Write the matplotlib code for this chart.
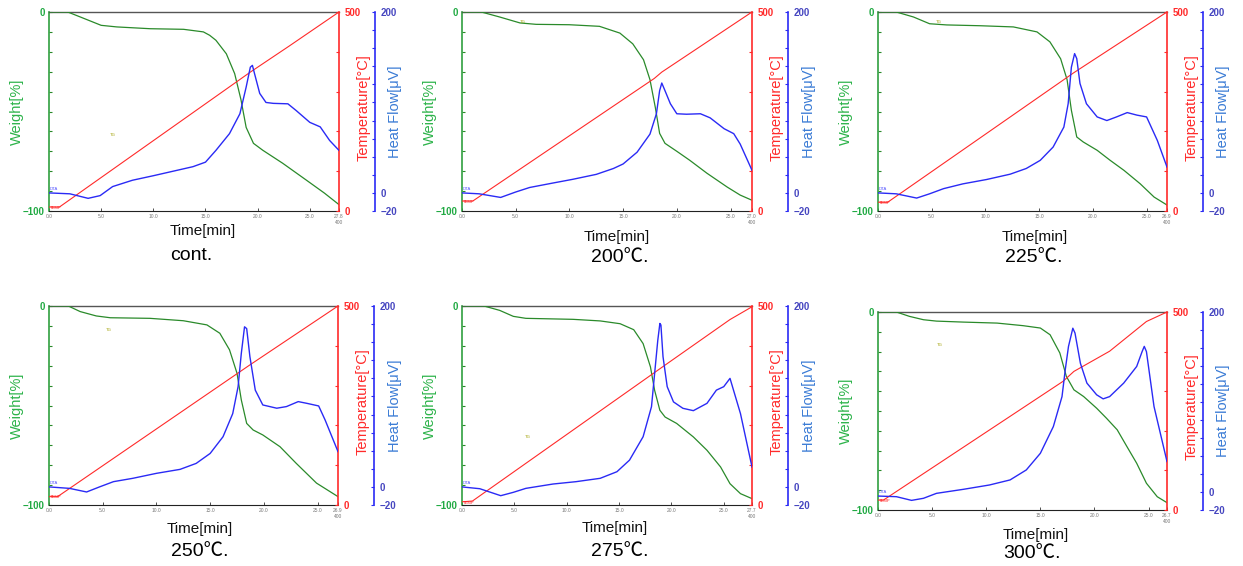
import matplotlib
matplotlib.use("Agg")
import matplotlib.pyplot as plt
import numpy as np

plt.rcParams["font.family"] = ["Liberation Sans", "Noto Sans CJK JP", "DejaVu Sans"]

W, H = 1243, 566

TITLES = ["cont.", "200℃.", "225℃.", "250℃.", "275℃.", "300℃."]
T_END = [27.8, 27.0, 26.9, 26.9, 27.7, 26.7]

# ---- cont.
CONT_TG_T = [0, 1.8, 3.0, 5.0, 6.5, 9.7, 12.9, 14.8, 15.4, 16.0, 16.5, 17.0, 17.8, 18.4, 18.9, 19.6, 20.5, 22.4, 24.7, 26.4, 27.8]
CONT_TG = [0, 0, -2.5, -6.7, -7.5, -8.4, -8.7, -10, -11.7, -14.2, -17.6, -21, -31, -44, -58, -66, -69.5, -76, -84.6, -91, -96.8]
CONT_TEMP_T = [0, 1.0, 19.3, 23.0, 27.8]
CONT_TEMP = [10, 10, 349, 414, 500]
CONT_HF_T = [0, 2.0, 3.75, 4.9, 6.1, 8.0, 10.0, 11.9, 13.8, 15.0, 16.0, 17.3, 18.3, 18.9, 19.3, 19.5, 19.7,
             20.2, 20.8, 21.5, 22.9, 23.7, 25.0, 26.0, 26.9, 27.8]
CONT_HF = [0, -1, -6, -3, 7, 14, 19, 24, 29, 34, 47, 65.5, 87.5, 117, 139, 141, 132,
           110, 100, 99, 98.5, 91, 78, 73, 58, 47]

# ---- 200 C
T200_TG_T = [0, 1.8, 3.5, 5.4, 6.9, 10.0, 12.8, 14.7, 15.9, 16.9, 17.5, 18.0, 18.4, 18.9, 20.0, 21.2, 22.8, 24.7, 25.9, 27.0]
T200_TG = [0, 0, -2.5, -5.5, -6.2, -6.4, -7.2, -10.6, -16, -24, -34, -48, -61, -66, -70, -74.5, -81, -88, -92, -94.6]
T200_TEMP_T = [0, 1.0, 17.9, 18.6, 27.0]
T200_TEMP = [25, 25, 333, 349, 500]
T200_HF_T = [0, 1.6, 3.6, 5.0, 6.3, 8.5, 10.3, 12.5, 14.1, 15.0, 16.3, 17.5, 18.1, 18.4, 18.6, 18.9, 19.4,
             20.0, 20.9, 22.2, 23.1, 24.4, 25.3, 25.9, 27.0]
T200_HF = [0, -1, -5, 1, 6, 11, 15, 20.5, 27, 32, 45, 65, 87.5, 113, 121.5, 113, 98.6,
           87.5, 87, 87.5, 83, 71, 65.5, 54, 25]

# ---- 225 C
T225_TG_T = [0, 1.7, 3.3, 4.8, 6.4, 9.5, 12.6, 14.8, 16.0, 17.0, 17.6, 18.0, 18.5, 19.1, 20.4, 21.6, 22.9, 24.4, 25.7, 26.9]
T225_TG = [0, 0, -2.5, -5.9, -6.5, -6.9, -7.5, -10, -15, -23.5, -34, -49.4, -62.8, -65.3, -69.5, -74.5, -79.6, -86.3, -93, -97]
T225_TEMP_T = [0, 0.9, 18.2, 26.9]
T225_TEMP = [22, 22, 347, 500]
T225_HF_T = [0, 1.7, 3.6, 4.8, 6.1, 7.9, 10.1, 12.3, 13.8, 15.1, 16.3, 17.3, 17.7, 18.0, 18.3, 18.5, 18.8,
             19.4, 20.4, 21.3, 22.2, 23.2, 24.1, 25.0, 26.0, 26.9]
T225_HF = [0, -1, -5.7, -1, 4.7, 10, 14.8, 20.7, 27, 36, 50.7, 72.8, 98.6, 139, 154, 148.5, 121,
           98.6, 84, 80, 84, 88.8, 86, 84, 58, 28.6]

# ---- 250 C
T250_TG_T = [0, 1.8, 2.9, 4.4, 5.7, 9.4, 12.5, 14.7, 15.9, 16.8, 17.5, 17.9, 18.4, 19.0, 19.9, 21.5, 23.0, 24.9, 26.9]
T250_TG = [0, 0, -2.8, -5, -5.9, -6.2, -7.4, -9.5, -13.7, -22, -33.8, -47.2, -59, -62.3, -64.8, -70.7, -79, -89, -95.8]
T250_TEMP_T = [0, 0.8, 18.7, 26.9]
T250_TEMP = [21, 21, 352, 500]
T250_HF_T = [0, 1.9, 3.5, 4.7, 6.0, 7.8, 10.0, 12.2, 13.7, 15.0, 16.2, 17.1, 17.6, 17.9, 18.2, 18.4, 18.7,
             19.2, 19.9, 21.2, 22.1, 23.2, 24.0, 25.1, 25.7, 26.9]
T250_HF = [0, -1.6, -5.6, 0, 5.8, 9.5, 15, 19.4, 26, 37, 55.5, 81, 110.8, 147.6, 177, 175, 144,
           107, 90.6, 87, 88.8, 94.3, 92.4, 89.5, 74, 39]

# ---- 275 C
T275_TG_T = [0, 2.1, 3.6, 4.9, 6.1, 10.6, 13.2, 15.1, 16.4, 17.3, 18.0, 18.4, 18.9, 19.4, 20.5, 22.1, 23.4, 24.7, 25.6, 26.6, 27.7]
T275_TG = [0, 0, -2.2, -5.2, -6.2, -6.7, -7.5, -8.9, -11.9, -18.9, -30.6, -42.4, -52.4, -55.8, -59, -65.8, -72.5, -80.9, -89.3, -94.3, -96.8]
T275_TEMP_T = [0, 1.0, 19.1, 25.6, 27.7]
T275_TEMP = [8, 10, 346, 466, 498]
T275_HF_T = [0, 1.7, 3.7, 4.9, 6.1, 8.7, 10.9, 13.2, 14.8, 16.0, 17.3, 18.1, 18.4, 18.7, 18.9, 19.0, 19.2,
             19.6, 20.2, 21.1, 22.1, 23.4, 24.3, 25.0, 25.6, 26.6, 27.7]
T275_HF = [0, -2, -9.7, -6, -1.6, 3.2, 5.8, 9.5, 16.8, 29.6, 55.5, 88.7, 125.5, 162, 180.7, 179, 144,
           110.8, 94, 86.9, 84.3, 92.4, 107, 110.8, 120, 81, 22]

# ---- 300 C
T300_TG_T = [0, 1.7, 2.9, 4.2, 5.4, 7.9, 11.0, 13.4, 15.0, 15.9, 16.8, 17.4, 18.1, 19.0, 20.2, 21.1, 22.1, 23.0, 23.9, 24.8, 25.8, 26.7]
T300_TG = [0, 0, -2.2, -3.9, -4.6, -5.1, -5.6, -6.9, -8.1, -11.5, -20.7, -32.5, -39.3, -42.7, -48.6, -53.6, -59.5, -68, -76.4, -86.5, -93.3, -96.3]
T300_TEMP_T = [0, 0.5, 17.1, 18.1, 21.4, 24.8, 26.7]
T300_TEMP = [25, 25, 325, 350, 401, 476, 500]
T300_HF_T = [0, 1.7, 3.1, 4.2, 5.4, 7.9, 10.3, 12.2, 13.7, 15.0, 16.2, 17.0, 17.3, 17.6, 18.0, 18.2, 18.7,
             19.3, 20.2, 20.8, 21.4, 22.7, 23.9, 24.4, 24.6, 24.8, 25.5, 26.7]
T300_HF = [-4.5, -5.2, -9.3, -7, -1.5, 3, 7.8, 13.4, 24.5, 43, 72.7, 106, 135.8, 161.8, 182, 176.6, 143,
           121, 108, 103.5, 106, 121, 139.5, 156, 161.8, 156, 95, 33.8]

PANELS = [
    (CONT_TG_T, CONT_TG, CONT_TEMP_T, CONT_TEMP, CONT_HF_T, CONT_HF),
    (T200_TG_T, T200_TG, T200_TEMP_T, T200_TEMP, T200_HF_T, T200_HF),
    (T225_TG_T, T225_TG, T225_TEMP_T, T225_TEMP, T225_HF_T, T225_HF),
    (T250_TG_T, T250_TG, T250_TEMP_T, T250_TEMP, T250_HF_T, T250_HF),
    (T275_TG_T, T275_TG, T275_TEMP_T, T275_TEMP, T275_HF_T, T275_HF),
    (T300_TG_T, T300_TG, T300_TEMP_T, T300_TEMP, T300_HF_T, T300_HF),
]

# layout in pixels: plot box (left, top, right, bottom), label centres
RECTS = [(49, 12, 339, 211), (462, 12, 752, 211), (878, 12, 1167, 211),
         (49, 306, 338, 505), (462, 306, 752, 505), (878, 312, 1167, 510)]
XLABEL_POS = [(203, 231), (617, 237), (1035, 237), (200, 529), (615, 528), (1036, 535)]
TITLE_POS = [(191, 255), (620, 257), (1034, 258), (200, 552), (620, 552), (1032, 553)]
TG_MARK = [(5.8, -62), (5.4, -5), (5.4, -5), (5.3, -12), (6.0, -66), (5.4, -16.5)]

GREEN = "#2a8a2a"
GREEN_LBL = "#2db34a"
RED = "#ff2a2a"
BLUE = "#2a2af5"
BLUE_LBL = "#3a7bd5"

fig = plt.figure(figsize=(W / 100, H / 100), dpi=100)

for i, (tg_t, tg, te_t, te, hf_t, hf) in enumerate(PANELS):
    x0, y0, x1, y1 = RECTS[i]
    pw = x1 - x0
    ax = fig.add_axes([x0 / W, 1 - y1 / H, pw / W, (y1 - y0) / H])
    ax_t = ax.twinx()
    ax_h = ax.twinx()
    t_end = T_END[i]

    ax.plot(tg_t, tg, color=GREEN, lw=0.9, zorder=3)
    ax_t.plot(te_t, te, color=RED, lw=0.8)
    ax_h.plot(hf_t, hf, color=BLUE, lw=1.0)

    ax.set_xlim(0, t_end)
    ax.set_ylim(-100, 0)
    ax_t.set_ylim(0, 500)
    ax_h.set_ylim(-20, 200)

    # weight axis
    ax.set_yticks(np.arange(-100, 1, 10))
    ax.set_yticklabels(["\u2212100"] + [""] * 9 + ["0"])
    ax.tick_params(axis="y", direction="in", length=2.5, width=0.8, colors=GREEN, pad=3,
                   labelsize=7, labelcolor="#22aa44")
    for lab in ax.get_yticklabels():
        lab.set_fontweight("bold")
    ax.spines["left"].set_color("#30a040")
    ax.spines["left"].set_linewidth(1.2)
    ax.spines["top"].set_color("#555555")
    ax.spines["top"].set_linewidth(1.0)
    ax.spines["bottom"].set_color("#222222")
    ax.spines["right"].set_visible(False)

    # time axis
    xt = [0, 5, 10, 15, 20, 25, t_end]
    ax.set_xticks(xt)
    ax.set_xticklabels(["0.0", "5.0", "10.0", "15.0", "20.0", "25.0", f"{t_end:.1f}\n400"])
    ax.tick_params(axis="x", direction="in", length=2, width=0.6, colors="#333333", pad=2,
                   labelsize=3.5, labelcolor="#777777")

    # temperature axis
    ax_t.set_yticks(np.arange(0, 501, 100))
    ax_t.set_yticklabels(["0", "", "", "", "", "500"])
    ax_t.tick_params(axis="y", direction="in", length=2.5, width=0.8, colors=RED, pad=4,
                     labelsize=7)
    for lab in ax_t.get_yticklabels():
        lab.set_fontweight("bold")
    for s in ["left", "top", "bottom"]:
        ax_t.spines[s].set_visible(False)
    ax_t.spines["right"].set_color(RED)
    ax_t.spines["right"].set_linewidth(1.2)

    # heat flow axis
    ax_h.spines["right"].set_position(("axes", 1 + 36 / pw))
    ax_h.set_yticks(np.arange(-20, 201, 20))
    ax_h.set_yticklabels(["\u221220", "0"] + [""] * 9 + ["200"])
    ax_h.tick_params(axis="y", direction="in", length=2.5, width=0.8, colors=BLUE, pad=4,
                     labelsize=7, labelcolor="#4646c0")
    for lab in ax_h.get_yticklabels():
        lab.set_fontweight("bold")
    for s in ["left", "top", "bottom"]:
        ax_h.spines[s].set_visible(False)
    ax_h.spines["right"].set_color(BLUE)
    ax_h.spines["right"].set_linewidth(1.2)

    # axis titles
    ax.set_ylabel("Weight[%]", color=GREEN_LBL, fontsize=10.5)
    ax.yaxis.set_label_coords(-25 / pw, 0.5)
    ax_t.set_ylabel("Temperature[°C]", color=RED, fontsize=10.5)
    ax_t.yaxis.set_label_coords(1 + 17.5 / pw, 0.52)
    ax_h.set_ylabel("Heat Flow[μV]", color=BLUE_LBL, fontsize=10.5)
    ax_h.yaxis.set_label_coords(1 + 49.5 / pw, 0.5)

    # tiny trace markers
    ax_h.text(0.1, hf[0] + 2, "DTA", color="#5050ff", fontsize=3, va="bottom")
    ax_t.text(0.1, te[0] - 2, "TEMP", color="#ff2020", fontsize=3, va="center")
    ax.text(TG_MARK[i][0], TG_MARK[i][1], "TG", color="#a0a000", fontsize=3, va="center")

    xl = XLABEL_POS[i]
    fig.text(xl[0] / W, 1 - xl[1] / H, "Time[min]", ha="center", va="center",
             fontsize=11, color="#111111")
    tp = TITLE_POS[i]
    fig.text(tp[0] / W, 1 - tp[1] / H, TITLES[i], ha="center", va="center",
             fontsize=14, color="#000000")

fig.savefig("out.png", dpi=100)
